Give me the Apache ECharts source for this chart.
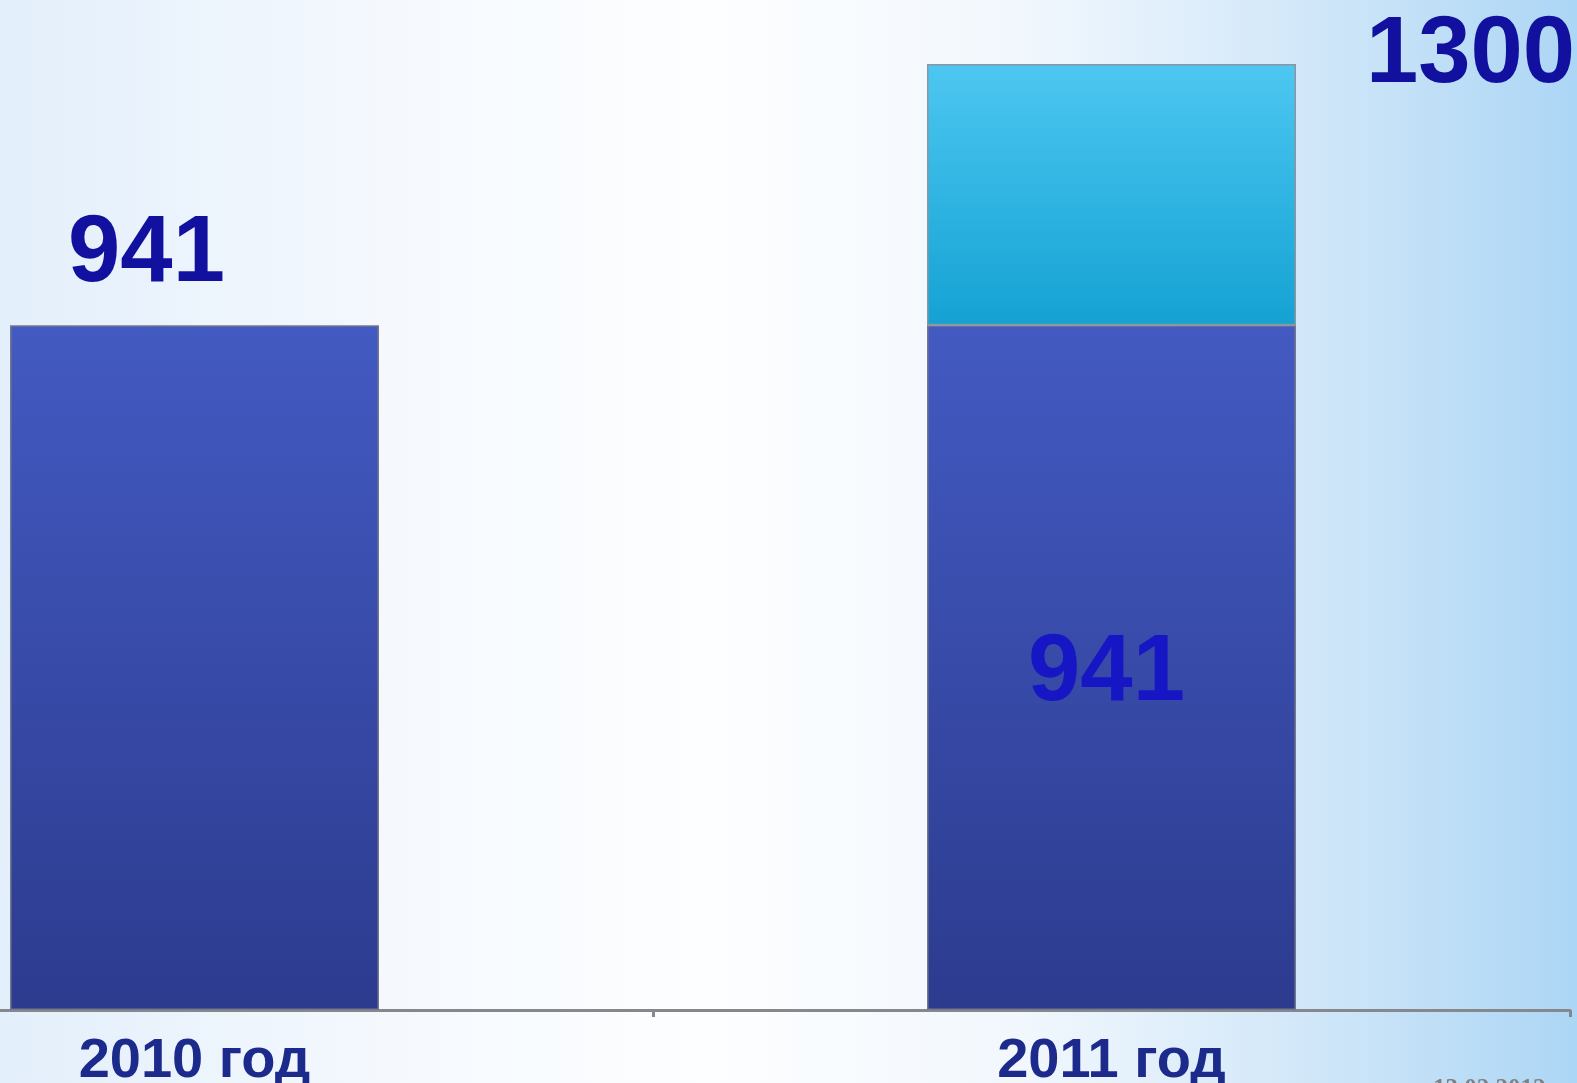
<!DOCTYPE html>
<html>
<head>
<meta charset="utf-8">
<script src="https://cdn.jsdelivr.net/npm/echarts@6/dist/echarts.min.js"></script>
<style>
  html, body { margin: 0; padding: 0; }
  #main { width: 1577px; height: 1083px; }
</style>
</head>
<body>
<div id="main"></div>
<script>
var categories = ['2010 год', '2011 год'];
var baseValues = [941, 941];
var extraValues = [null, 359];

var myChart = echarts.init(document.getElementById('main'));

var labelFont = 'Liberation Sans, Arial, sans-serif';

var option = {
    backgroundColor: {
        type: 'linear', x: 0, y: 0, x2: 1, y2: 0,
        colorStops: [
            { offset: 0, color: '#e3effb' },
            { offset: 0.25, color: '#f5f9fe' },
            { offset: 0.45, color: '#fdfeff' },
            { offset: 0.65, color: '#f1f7fd' },
            { offset: 0.82, color: '#d3e8f9' },
            { offset: 1, color: '#acd6f5' }
        ]
    },
    animation: false,
    grid: {
        left: -264, right: 7, top: 64, bottom: 73,
        outerBoundsMode: 'none',
        containLabel: false
    },
    xAxis: {
        type: 'category',
        data: categories,
        axisLine: { show: true, lineStyle: { color: '#85888d', width: 3 } },
        axisTick: { show: true, length: 7, lineStyle: { color: '#85888d', width: 3 } },
        axisLabel: {
            color: '#1c2a8c',
            fontSize: 56,
            fontWeight: 'bold',
            fontFamily: labelFont,
            margin: 24
        }
    },
    yAxis: {
        type: 'value',
        min: 0,
        max: 1300,
        show: false,
        splitLine: { show: false }
    },
    series: [
        {
            type: 'bar',
            stack: 'total',
            barWidth: 369,
            data: baseValues,
            itemStyle: {
                color: {
                    type: 'linear', x: 0, y: 0, x2: 0, y2: 1,
                    colorStops: [
                        { offset: 0, color: '#435ac2' },
                        { offset: 1, color: '#2c3b8e' }
                    ]
                },
                borderColor: '#74788a',
                borderWidth: 1.5
            },
            label: {
                show: true,
                formatter: function (p) { return p.value; },
                fontSize: 94,
                fontWeight: 'bold',
                fontFamily: labelFont,
                color: '#12109e'
            }
        },
        {
            type: 'bar',
            stack: 'total',
            barWidth: 369,
            data: extraValues,
            itemStyle: {
                color: {
                    type: 'linear', x: 0, y: 0, x2: 0, y2: 1,
                    colorStops: [
                        { offset: 0, color: '#4dc7f1' },
                        { offset: 1, color: '#14a2d3' }
                    ]
                },
                borderColor: '#8a96a2',
                borderWidth: 1.5
            },
            label: {
                show: true,
                position: 'top',
                offset: [359, 44],
                formatter: function (p) {
                    return baseValues[p.dataIndex] + extraValues[p.dataIndex];
                },
                fontSize: 94,
                fontWeight: 'bold',
                fontFamily: labelFont,
                color: '#12109e'
            }
        }
    ],
    graphic: [
        {
            type: 'text',
            left: 1433,
            top: 1077,
            style: {
                text: '13.02.2012',
                fontSize: 25,
                fontWeight: 'bold',
                fontFamily: 'Liberation Serif, serif',
                fill: '#808080'
            }
        }
    ]
};

// per-bar label placement for the base series
option.series[0].data = baseValues.map(function (v, i) {
    if (i === 0) {
        return { value: v, label: { position: 'top', offset: [-48, -18] } };
    }
    return { value: v, label: { position: 'inside', offset: [-5, 6], color: '#1616c4' } };
});

myChart.setOption(option);
</script>
</body>
</html>
